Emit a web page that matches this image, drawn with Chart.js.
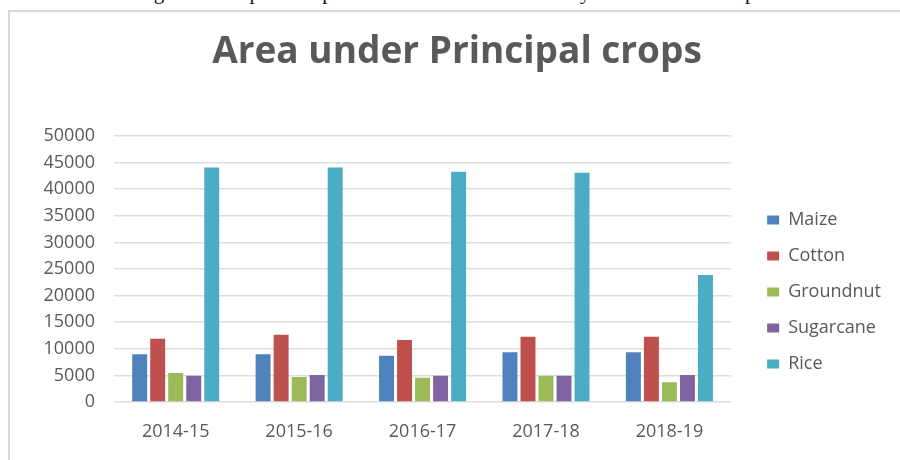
<!DOCTYPE html>
<html>
<head>
<meta charset="utf-8">
<script src="https://cdn.jsdelivr.net/npm/chart.js@4"></script>
<style>
  html, body { margin: 0; padding: 0; background: #fff; }
  #page { position: relative; width: 900px; height: 460px; overflow: hidden; }
  #caption {
    position: absolute; left: 0; top: -18px; width: 900px;
    font: 21px/21px "Liberation Serif", serif; color: #111;
    text-align: center; white-space: nowrap;
  }
  #frame {
    position: absolute; left: 8px; top: 10px; width: 900px; height: 460px;
    border-left: 2px solid #dadada; border-top: 2px solid #dadada;
  }
  #wrap { position: absolute; left: 0; top: 0; width: 900px; height: 460px; }
</style>
</head>
<body>
<div id="page">
  <div id="caption">Figure 3: Graphical representation of Area covered by some selected crops</div>
  <div id="frame"></div>
  <div id="wrap"><canvas id="chart"></canvas></div>
</div>
<script>
const years = ['2014-15', '2015-16', '2016-17', '2017-18', '2018-19'];
const maize = [8970, 8970, 8700, 9340, 9340];
const cotton = [11900, 12650, 11650, 12280, 12280];
const groundnut = [5450, 4700, 4570, 4950, 3700];
const sugarcane = [4950, 5075, 4950, 4950, 5075];
const rice = [44100, 44100, 43300, 43100, 23870];

const textColor = '#595959';
const font = 'Open Sans';

function series(label, data, color) {
  return {
    label,
    data,
    backgroundColor: color,
    borderWidth: 0,
    categoryPercentage: 0.73,
    barPercentage: 0.83,
  };
}

new Chart(document.getElementById('chart').getContext('2d'), {
  type: 'bar',
  data: {
    labels: years,
    datasets: [
      series('Maize', maize, '#4F81BD'),
      series('Cotton', cotton, '#C0504D'),
      series('Groundnut', groundnut, '#9BBB59'),
      series('Sugarcane', sugarcane, '#8064A2'),
      series('Rice', rice, '#4BACC6'),
    ],
  },
  options: {
    responsive: true,
    maintainAspectRatio: false,
    animation: false,
    layout: {
      padding: {left: 23, right: 9, top: 0, bottom: 14},
    },
    plugins: {
      title: {
        display: true,
        text: 'Area under Principal crops',
        color: textColor,
        font: {family: font, size: 37, weight: 'bold'},
        padding: {top: 30, bottom: 61.6},
      },
      legend: {
        position: 'right',
        // blank legend title only pushes the items down
        title: {display: true, text: ' ', font: {size: 10}, padding: {top: 126, bottom: 0}},
        labels: {
          boxWidth: 12,
          boxHeight: 9,
          padding: 18,
          color: textColor,
          font: {family: font, size: 18},
        },
      },
      tooltip: {enabled: false},
    },
    scales: {
      x: {
        grid: {display: false, drawTicks: false},
        border: {display: false},
        ticks: {color: textColor, font: {family: font, size: 18}, padding: 19},
        afterFit: s => { s.height = 44; },
      },
      y: {
        min: 0,
        max: 50000,
        ticks: {
          stepSize: 5000,
          color: textColor,
          font: {family: font, size: 18},
          padding: 19,
          callback: v => String(v),
        },
        grid: {color: '#dedede', lineWidth: 1.5, drawTicks: false},
        border: {display: false},
        afterFit: s => { s.width = 91; },
      },
      gap: {
        position: 'right',
        display: true,
        grid: {display: false, drawTicks: false},
        border: {display: false},
        ticks: {display: false},
        afterFit: s => { s.width = 18; },
      },
    },
  },
});
</script>
</body>
</html>
